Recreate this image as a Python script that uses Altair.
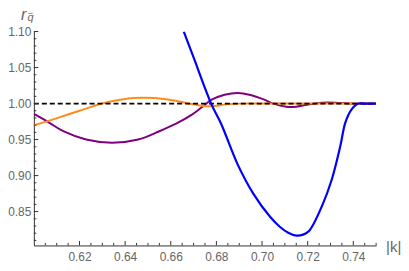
import altair as alt
import pandas as pd

# ---- data ----
k_blue = [0.6657, 0.6700, 0.6779, 0.6822, 0.6893, 0.6963, 0.7036, 0.7079, 0.7115,
          0.7150, 0.7180, 0.7207, 0.7263, 0.7306, 0.7343, 0.7365, 0.7392, 0.7422, 0.7450, 0.7500]
r_blue = [1.100, 1.064, 0.9985, 0.9709, 0.9156, 0.8742, 0.8424, 0.8286, 0.8205,
          0.8166, 0.8180, 0.8235, 0.8580, 0.8949, 0.9409, 0.9736, 0.9916, 1.0000, 1.0000, 1.0000]

k_purple = [0.6000, 0.6065, 0.6129, 0.6229, 0.6343, 0.6457, 0.6550, 0.6621, 0.6693,
            0.6736, 0.6779, 0.6836, 0.6893, 0.6950, 0.7007, 0.7050, 0.7107, 0.7150,
            0.7207, 0.7263, 0.7322, 0.7380, 0.7500]
r_purple = [0.9856, 0.9740, 0.9616, 0.9501, 0.9456, 0.9501, 0.9616, 0.9718, 0.9847,
            0.9948, 1.0054, 1.0123, 1.0148, 1.0119, 1.0058, 0.9999, 0.9957, 0.9957,
            0.9990, 1.0012, 1.0012, 1.0000, 1.0000]

k_orange = [0.6000, 0.6050, 0.6130, 0.6200, 0.6300, 0.6414, 0.6470, 0.6530, 0.6621,
            0.6693, 0.6765, 0.6836, 0.6900, 0.7000, 0.7500]
r_orange = [0.9700, 0.9745, 0.9828, 0.9900, 1.0000, 1.0069, 1.0080, 1.0077, 1.0040,
            0.9994, 0.9961, 0.9985, 0.9999, 1.0000, 1.0000]

k_ref = [0.60, 0.75]
r_ref = [1.00, 1.00]

x_major = [0.62, 0.64, 0.66, 0.68, 0.70, 0.72, 0.74]
x_minor = [0.605, 0.61, 0.615, 0.625, 0.63, 0.635, 0.645, 0.65, 0.655, 0.665, 0.67,
           0.675, 0.685, 0.69, 0.695, 0.705, 0.71, 0.715, 0.725, 0.73, 0.735, 0.745, 0.75]
y_major = [0.85, 0.90, 0.95, 1.00, 1.05, 1.10]
y_minor = [0.81, 0.82, 0.83, 0.84, 0.86, 0.87, 0.88, 0.89, 0.91, 0.92, 0.93, 0.94,
           0.96, 0.97, 0.98, 0.99, 1.01, 1.02, 1.03, 1.04, 1.06, 1.07, 1.08, 1.09]

FONT = "Liberation Sans"
TXT = "#666666"
AX = "#333333"
W, H = 344, 215

xscale = alt.Scale(domain=[0.6, 0.75], nice=False, zero=False)
yscale = alt.Scale(domain=[0.803, 1.10], nice=False, zero=False)

xaxis = alt.Axis(values=x_major, format=".2f", ticks=False,
                 labelPadding=6, domainColor=AX, labelColor=TXT,
                 labelFont=FONT, labelFontSize=12, grid=False, title="",
                 labelOverlap=False, labelFlush=False, domainWidth=1)
yaxis = alt.Axis(values=y_major, format=".2f", ticks=False,
                 labelPadding=3, domainColor=AX, labelColor=TXT,
                 labelFont=FONT, labelFontSize=12, grid=False, title="",
                 labelOverlap=False, labelFlush=False, domainWidth=1)

X = lambda f="k": alt.X(f"{f}:Q", scale=xscale, axis=xaxis)
Y = lambda f="r": alt.Y(f"{f}:Q", scale=yscale, axis=yaxis)


def series(ks, rs, color, width=2.0, dash=None):
    df = pd.DataFrame({"k": ks, "r": rs})
    kw = dict(color=color, strokeWidth=width, interpolate="catmull-rom", clip=True)
    if dash:
        kw["strokeDash"] = dash
        kw["interpolate"] = "linear"
    return alt.Chart(df).mark_line(**kw).encode(x=X(), y=Y())


purple = series(k_purple, r_purple, "#800080")
orange = series(k_orange, r_orange, "#ff8c1a")
ref = series(k_ref, r_ref, "#000000", width=1.8, dash=[5, 3])
blue = series(k_blue, r_blue, "#0000ff", width=2.2)

# inward tick marks (Mathematica style)
def xticks(vals, length):
    return alt.Chart(pd.DataFrame({"k": vals})).mark_rule(color=AX, strokeWidth=1).encode(
        x=X(), y=alt.value(H), y2=alt.value(H - length))

def yticks(vals, length):
    return alt.Chart(pd.DataFrame({"r": vals})).mark_rule(color=AX, strokeWidth=1).encode(
        y=Y(), x=alt.value(0), x2=alt.value(length))

ticks = [xticks(x_major, 4.5), xticks(x_minor, 2.5), yticks(y_major, 4.5), yticks(y_minor, 2.5)]

lbl = pd.DataFrame({"a": [0]})
k_label = alt.Chart(lbl).mark_text(text="|k|", font=FONT, fontSize=15, color=TXT,
                                   align="left", baseline="alphabetic").encode(
    x=alt.value(354), y=alt.value(222))
r_label = alt.Chart(lbl).mark_text(text="r", font=FONT, fontSize=16, fontStyle="italic",
                                   color=TXT, align="left", baseline="alphabetic").encode(
    x=alt.value(-13), y=alt.value(-12))
q_label = alt.Chart(lbl).mark_text(text="q", font=FONT, fontSize=11, fontStyle="italic",
                                   color=TXT, align="left", baseline="alphabetic").encode(
    x=alt.value(-6.5), y=alt.value(-10.5))
m_label = alt.Chart(lbl).mark_text(text="\u2212", font=FONT, fontSize=9,
                                   color=TXT, align="center", baseline="alphabetic").encode(
    x=alt.value(-3.5), y=alt.value(-15.5))

chart = alt.layer(purple, orange, ref, blue, *ticks, k_label, r_label, q_label, m_label).properties(
    width=W, height=H,
    padding={"left": 26, "top": 23, "right": 25, "bottom": 17},
    autosize=alt.AutoSizeParams(type="none"),
).configure_view(stroke="transparent")

chart.save("out.html", embed_options={"renderer": "svg", "actions": False})
